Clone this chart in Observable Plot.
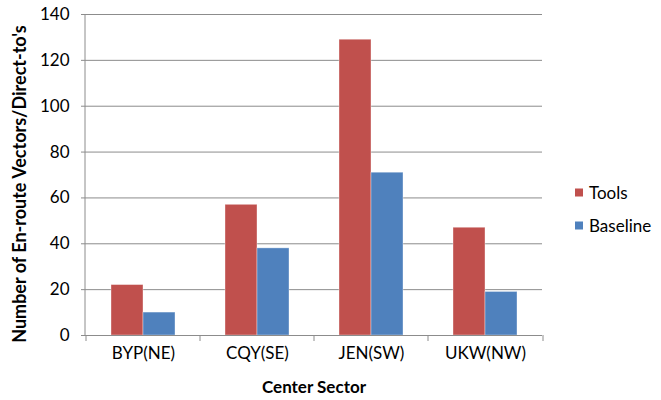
<!DOCTYPE html>
<html>
<head>
<meta charset="utf-8">
<script src="https://cdn.jsdelivr.net/npm/d3@7"></script>
<script src="https://cdn.jsdelivr.net/npm/@observablehq/plot@0.6"></script>
<style>
  html, body { margin: 0; padding: 0; background: #fff; }
  #wrap { position: relative; width: 661px; height: 400px; font-family: Lato, "Open Sans", sans-serif; }
  .legend { position: absolute; left: 575px; font-size: 17px; color: #000; }
  .legend .item { position: absolute; display: flex; align-items: center; white-space: nowrap; transform: translateY(-50%); }
  .legend .sw { width: 8px; height: 8px; margin-right: 6px; }
</style>
</head>
<body>
<div id="wrap"></div>
<script>
const categories = ["BYP(NE)", "CQY(SE)", "JEN(SW)", "UKW(NW)"];
const series = ["Tools", "Baseline"];
const tools = [22, 57, 129, 47];
const baseline = [10, 38, 71, 19];
const yTicks = [0, 20, 40, 60, 80, 100, 120, 140];
const colors = ["#C0504D", "#4F81BD"];
const xTitle = "Center Sector";
const yTitle = "Number of En-route Vectors/Direct-to's";

const data = categories.flatMap((c, i) => [
  {category: c, series: series[0], value: tools[i]},
  {category: c, series: series[1], value: baseline[i]}
]);

const grey = "#8c8c8c";
const plot = Plot.plot({
  width: 661,
  height: 400,
  marginLeft: 85,
  marginRight: 118,
  marginTop: 14,
  marginBottom: 65,
  style: {fontFamily: "Lato, 'Open Sans', sans-serif", fontSize: "17px", color: "#000", background: "#fff"},
  fx: {domain: categories, padding: 0, axis: null, label: null},
  x: {domain: series, paddingInner: 0, paddingOuter: 0.735, axis: null},
  y: {domain: [0, 140], axis: null},
  color: {domain: series, range: colors},
  marks: [
    Plot.gridY(yTicks, {stroke: grey, strokeOpacity: 1, strokeWidth: 1}),
    Plot.barY(data, {fx: "category", x: "series", y: "value", fill: "series", stroke: "#fff", strokeOpacity: 0.45, strokeWidth: 0.8}),
    Plot.ruleY([0], {stroke: grey, strokeWidth: 1}),
    Plot.axisY(yTicks, {tickSize: 5, tickPadding: 12, stroke: grey, strokeOpacity: 1, fill: "#000", label: null, fontSize: 17}),
    Plot.axisFx({anchor: "bottom", tickSize: 0, tickPadding: 11, fill: "#000", label: null, fontSize: 17})
  ]
});

const svg = d3.select(plot);
const fx = plot.scale("fx");
const y = plot.scale("y");
const y0 = y.apply(0);
const left = fx.range[0];
const right = fx.range[1];
const edges = categories.map(c => fx.apply(c)).concat([right]);

// vertical axis line
svg.append("line")
  .attr("x1", left).attr("x2", left)
  .attr("y1", y.apply(140)).attr("y2", y0)
  .attr("stroke", grey);
// category boundary ticks
svg.append("g").selectAll("line").data(edges).join("line")
  .attr("x1", d => d).attr("x2", d => d)
  .attr("y1", y0).attr("y2", y0 + 6)
  .attr("stroke", grey);
// axis titles
svg.append("text")
  .attr("x", 314).attr("y", 389)
  .attr("text-anchor", "middle").attr("dominant-baseline", "middle")
  .attr("font-weight", "bold").attr("font-size", 17)
  .text(xTitle);
svg.append("text")
  .attr("transform", `translate(21,184) rotate(-90)`)
  .attr("text-anchor", "middle").attr("dominant-baseline", "middle")
  .attr("font-weight", "bold").attr("font-size", 18)
  .text(yTitle);

const wrap = document.getElementById("wrap");
wrap.appendChild(plot);

const legend = document.createElement("div");
legend.className = "legend";
const legendY = [192, 225];
series.forEach((s, i) => {
  const item = document.createElement("div");
  item.className = "item";
  item.style.top = legendY[i] + "px";
  const sw = document.createElement("span");
  sw.className = "sw";
  sw.style.background = colors[i];
  const label = document.createElement("span");
  label.textContent = s;
  item.appendChild(sw);
  item.appendChild(label);
  legend.appendChild(item);
});
legend.style.top = "0px";
wrap.appendChild(legend);
</script>
</body>
</html>
